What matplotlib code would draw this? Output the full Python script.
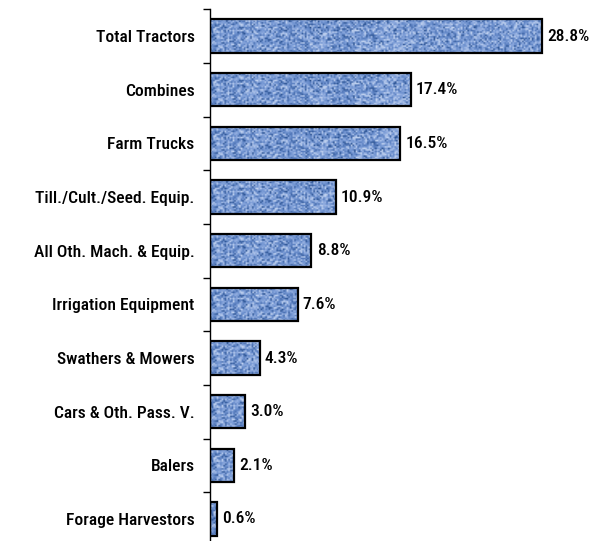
import matplotlib.pyplot as plt
import numpy as np
from matplotlib.colors import LinearSegmentedColormap

categories = ["Total Tractors", "Combines", "Farm Trucks", "Till./Cult./Seed. Equip.",
              "All Oth. Mach. & Equip.", "Irrigation Equipment", "Swathers & Mowers",
              "Cars & Oth. Pass. V.", "Balers", "Forage Harvestors"]
shares = [28.8, 17.4, 16.5, 10.9, 8.8, 7.6, 4.3, 3.0, 2.1, 0.6]

plt.rcParams['font.family'] = ['Roboto Condensed', 'Liberation Sans', 'DejaVu Sans']

fig = plt.figure(figsize=(6, 5.41), dpi=100)
ax = fig.add_axes([0.35, 0.0, 0.65, 1 - 9.2 / 541])

y = np.arange(len(categories))
bar_h = 0.62
xmax = 390 / 11.53

# mottled blue fill texture (deterministic hash noise), clipped to each bar
cmap = LinearSegmentedColormap.from_list(
    'cloth', ['#28508f', '#5a7fc0', '#7396d2', '#8eaade', '#c3d4f0'])
gx, gy = np.meshgrid(np.arange(300), np.arange(22))
tex = np.abs(np.modf(np.sin(gx * 12.9898 + gy * 78.233) * 43758.5453)[0])
tex = tex ** 0.8

bars = ax.barh(y, shares, height=bar_h, color='none', edgecolor='black', linewidth=1.6, zorder=3)
for bar in bars:
    x0, y0 = bar.get_x(), bar.get_y()
    w, h = bar.get_width(), bar.get_height()
    ncols = max(2, int(w * 11.53 / 1.6))
    im = ax.imshow(tex[:, :ncols], cmap=cmap, extent=(x0, x0 + w, y0 + h, y0),
                   aspect='auto', interpolation='bilinear', zorder=2)
    im.set_clip_path(bar)

ax.set_xlim(0, xmax)
ax.set_ylim(9.41, -0.5)

ax.set_yticks(y)
ax.set_yticklabels(categories, fontsize=12.6, fontweight='medium')
ax.set_yticks(np.arange(-0.5, 9.5, 1), minor=True)
ax.tick_params(axis='y', which='major', length=0, pad=11)
ax.tick_params(axis='y', which='minor', length=5, width=1, direction='out')
ax.set_xticks([])

for s in ['top', 'right', 'bottom']:
    ax.spines[s].set_visible(False)
ax.spines['left'].set_linewidth(1)

for yi, v in zip(y, shares):
    ax.text(v + 0.45, yi, f"{v:.1f}%", va='center', ha='left',
            fontsize=12.6, fontweight='medium')

fig.savefig('out.png', dpi=100)
